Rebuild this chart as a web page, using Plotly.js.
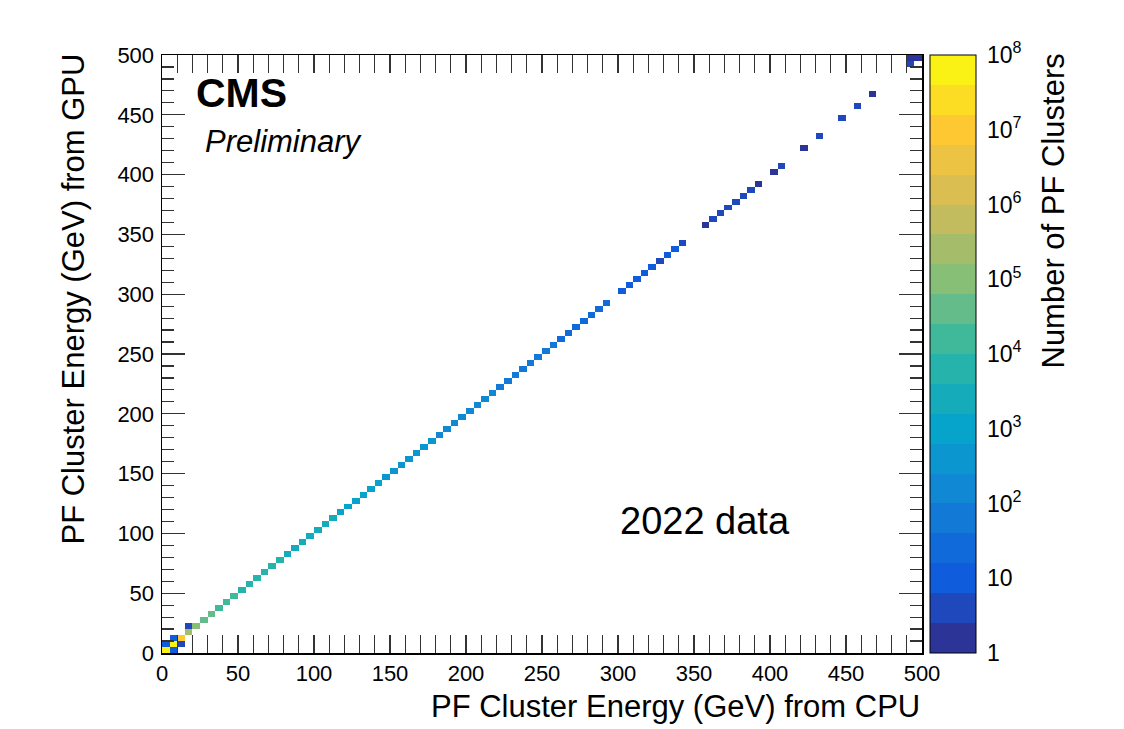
<!DOCTYPE html>
<html>
<head>
<meta charset="utf-8">
<script src="https://cdn.plot.ly/plotly-3.0.1.min.js"></script>
<style>html,body{margin:0;padding:0;background:#fff;}#chart{width:1124px;height:729px;}</style>
</head>
<body>
<div id="chart"></div>
<script>
// ---- data ----
const binWidth = 5;            // GeV
const nBins = 100;             // 0 .. 500 GeV
// diagonal bin contents (x-bin == y-bin), null = empty bin
const diagCounts = [
  8e7, 4e7, 8e6, 3e5, 1e5, 5e4, 3e4, 2e4, 1.5e4, 1.2e4,
  9500, 8000, 6800, 5800, 5000, 4300, 3700, 3200, 2800, 2400,
  2100, 1800, 1600, 1400, 1200, 1050, 920, 800, 700, 610,
  530, 470, 410, 360, 320, 280, 250, 220, 190, 170,
  150, 130, 115, 100, 90, 80, 70, 40, 55, 50,
  45, 40, 36, 32, 28, 25, 22, 19, 17, null,
  15, 13, 12, 10, 9, 5, 8, 7, 6, null,
  null, 2, 6, 4, 5, 3, 4, 3, 2, null,
  2, 4, null, null, 1, null, 3, null, null, 3,
  null, 4, null, 2, null, null, null, null, 4, 1
];
// off-diagonal bins (x-bin index, y-bin index, count)
const offXBin = [1, 0, 2, 1, 3, 98];
const offYBin = [0, 1, 1, 2, 4, 99];
const offCounts = [15, 12, 6, 8, 3, 2];

const colorbarTickVals = [1, 10, 1e2, 1e3, 1e4, 1e5, 1e6, 1e7, 1e8];
const colorbarTickText = ['1', '10', '10<sup>2</sup>', '10<sup>3</sup>', '10<sup>4</sup>',
  '10<sup>5</sup>', '10<sup>6</sup>', '10<sup>7</sup>', '10<sup>8</sup>'];

// ---- build histogram matrix ----
const centers = [];
for (let i = 0; i < nBins; i++) centers.push(binWidth * i + binWidth / 2);
const z = [];
for (let j = 0; j < nBins; j++) { const row = []; for (let i = 0; i < nBins; i++) row.push(null); z.push(row); }
diagCounts.forEach((c, i) => { if (c !== null) z[i][i] = Math.log10(c); });
offCounts.forEach((c, k) => { z[offYBin[k]][offXBin[k]] = Math.log10(c); });

// ROOT kBird palette, 20 discrete contour levels
const birdStops = [0, 0.125, 0.25, 0.375, 0.5, 0.625, 0.75, 0.875, 1];
const birdR = [0.2082, 0.0592, 0.0780, 0.0232, 0.1802, 0.5301, 0.8186, 0.9956, 0.9764];
const birdG = [0.1664, 0.3599, 0.5041, 0.6419, 0.7178, 0.7492, 0.7328, 0.7862, 0.9832];
const birdB = [0.5293, 0.8684, 0.8385, 0.7914, 0.6425, 0.4662, 0.3499, 0.1968, 0.0539];
function bird(t) {
  let k = 0; while (k < birdStops.length - 2 && t > birdStops[k + 1]) k++;
  const f = (t - birdStops[k]) / (birdStops[k + 1] - birdStops[k]);
  const c = a => Math.round(255 * (a[k] + f * (a[k + 1] - a[k])));
  return 'rgb(' + c(birdR) + ',' + c(birdG) + ',' + c(birdB) + ')';
}
const nLevels = 20;
const colorscale = [];
for (let i = 0; i < nLevels; i++) {
  const col = bird((i + 0.5) / nLevels);
  colorscale.push([i / nLevels, col]);
  colorscale.push([(i + 1) / nLevels, col]);
}

const minorVals = [];
for (let d = 0; d < 8; d++) for (let m = 2; m <= 9; m++) minorVals.push(m * Math.pow(10, d));

// ---- geometry ----
const W = 1124, H = 729;
const L = 162, R = 24, T = 55, B = 76;
const pw = W - L - R;             // paper width
const plotRight = 922;
const xDomEnd = (plotRight - L) / pw;
const cbLeft = (930 - L) / pw;
const cbThick = 46;
const cbRight = (930 + cbThick - L) / pw;

const FONT = 'Liberation Sans, Arial, Helvetica, sans-serif';

const heat = {
  type: 'heatmap', x: centers, y: centers, z: z,
  zmin: 0, zmax: 8, colorscale: colorscale, hoverongaps: false,
  xgap: 0, ygap: 0,
  colorbar: {
    x: cbLeft, xanchor: 'left', xpad: 0, ypad: 0,
    y: 0.5, yanchor: 'middle', len: 1, lenmode: 'fraction',
    thickness: cbThick, thicknessmode: 'pixels',
    outlinewidth: 1, outlinecolor: '#000',
    showticklabels: false, ticks: ''
  }
};
const dummy = { type: 'scatter', x: [], y: [], yaxis: 'y2', showlegend: false, hoverinfo: 'skip' };

const axisCommon = {
  showline: true, linecolor: '#000', linewidth: 1.5, mirror: 'allticks',
  ticks: 'inside', tickwidth: 1.3, tickcolor: '#333',
  showgrid: false, zeroline: false, dtick: 50, tick0: 0,
  tickfont: { family: FONT, size: 22, color: '#000' }
};

const layout = {
  width: W, height: H,
  margin: { l: L, r: R, t: T, b: B, pad: 0 },
  paper_bgcolor: '#fff', plot_bgcolor: '#fff',
  font: { family: FONT, color: '#000' },
  showlegend: false,
  xaxis: Object.assign({}, axisCommon, {
    domain: [0, xDomEnd], range: [0, 500], ticklen: 18,
    minor: { ticks: 'inside', ticklen: 9, dtick: 10, tick0: 0, tickwidth: 1.2, tickcolor: '#333' },
    ticklabelstandoff: 0
  }),
  yaxis: Object.assign({}, axisCommon, {
    range: [0, 500], ticklen: 23,
    minor: { ticks: 'inside', ticklen: 12, dtick: 10, tick0: 0, tickwidth: 1.2, tickcolor: '#333' },
    ticklabelstandoff: 2
  }),
  yaxis2: {
    overlaying: 'y', anchor: 'free', position: cbRight, side: 'right',
    type: 'log', range: [0, 8], showgrid: false, zeroline: false, showline: false,
    tickmode: 'array', tickvals: colorbarTickVals, ticktext: colorbarTickText,
    ticks: 'inside', ticklen: 24, tickwidth: 1.2, tickcolor: '#222',
    minor: { ticks: 'inside', ticklen: 8, tickmode: 'array', tickvals: minorVals, tickwidth: 1, tickcolor: '#222' },
    tickfont: { family: FONT, size: 23, color: '#000' },
    ticklabelstandoff: 10
  },
  annotations: [
    { text: '<b>CMS</b>', xref: 'x domain', yref: 'y domain', x: (194 - L) / 760, y: (653 - 93) / 598,
      xanchor: 'left', yanchor: 'middle', showarrow: false, font: { family: FONT, size: 41, color: '#000' } },
    { text: '<i>Preliminary</i>', xref: 'x domain', yref: 'y domain', x: (203 - L) / 760, y: (653 - 141) / 598,
      xanchor: 'left', yanchor: 'middle', showarrow: false, font: { family: FONT, size: 31, color: '#000' } },
    { text: '2022 data', xref: 'x domain', yref: 'y domain', x: (618 - L) / 760, y: (653 - 521) / 598,
      xanchor: 'left', yanchor: 'middle', showarrow: false, font: { family: FONT, size: 38, color: '#000' } },
    { text: 'PF Cluster Energy (GeV) from CPU', xref: 'x domain', yref: 'y domain', x: 1, y: (653 - 706) / 598,
      xanchor: 'right', yanchor: 'middle', showarrow: false, font: { family: FONT, size: 31, color: '#000' } },
    { text: 'PF Cluster Energy (GeV) from GPU', xref: 'x domain', yref: 'y domain', x: (74 - L) / 760, y: 1.005,
      xanchor: 'center', yanchor: 'top', textangle: -90, showarrow: false, font: { family: FONT, size: 31, color: '#000' } },
    { text: 'Number of PF Clusters', xref: 'x domain', yref: 'y domain', x: (1054 - L) / 760, y: 1.005,
      xanchor: 'center', yanchor: 'top', textangle: -90, showarrow: false, font: { family: FONT, size: 31, color: '#000' } }
  ]
};

Plotly.newPlot('chart', [heat, dummy], layout, { displayModeBar: false, staticPlot: true });
</script>
</body>
</html>
